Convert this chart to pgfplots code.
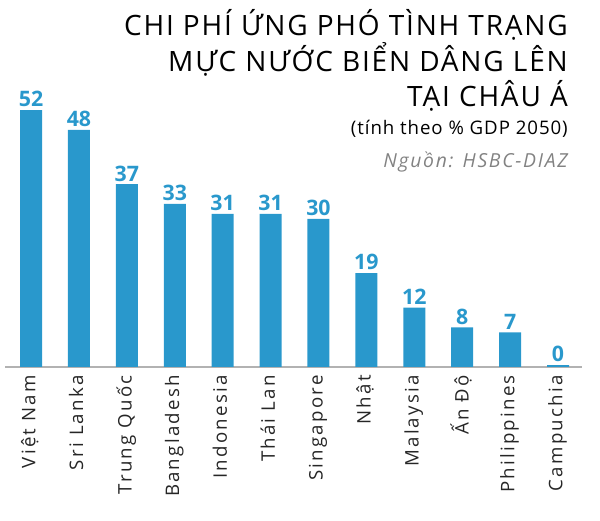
\documentclass[border=0pt]{standalone}
\usepackage{pgfplots}
\pgfplotsset{compat=1.18}
\usepackage{fontspec}
\setmainfont{Open Sans}
\newfontfamily\titlefont[LetterSpace=6.5]{Open Sans}
\newfontfamily\subfont[LetterSpace=5]{Open Sans}
\newfontfamily\srcfont[LetterSpace=9]{Open Sans}
\newfontfamily\tickfont[LetterSpace=12]{Open Sans}
\definecolor{barblue}{RGB}{41,152,204}
\definecolor{srcgray}{RGB}{130,130,130}
\begin{document}
\begin{tikzpicture}[x=0.75pt,y=0.75pt]
\path[use as bounding box] (0,0) rectangle (600,521);
\begin{axis}[
  at={(3.75pt,115.5pt)}, anchor=south west,
  scale only axis, width=432.75pt, height=200.25pt,
  xmin=-0.543, xmax=11.5, ymin=0, ymax=54.05,
  axis x line*=bottom, axis y line=none,
  x axis line style={draw=black!30, line width=1pt},
  xtick=data, major tick length=0,
  xticklabels={Việt Nam,Sri Lanka,Trung Quốc,Bangladesh,Indonesia,Thái Lan,Singapore,Nhật,Malaysia,Ấn Độ,Philippines,Campuchia},
  xticklabel style={rotate=90, anchor=east, font=\tickfont\fontsize{14}{14}\selectfont, text=black!85, inner sep=0pt, xshift=-6pt},
  typeset ticklabels with strut=false,
  ybar, bar width=16.5pt,
  bar shift=0pt,
  nodes near coords={\pgfmathprintnumber[fixed,precision=0,assume math mode=true]{\pgfplotspointmeta}},
  nodes near coords style={font=\fontsize{16}{16}\selectfont\bfseries, text=barblue, inner sep=2pt},
  clip=false,
]
\addplot[fill=barblue, draw=none] coordinates {
(0,52) (1,48) (2,37) (3,33) (4,31) (5,31) (6,30) (7,19) (8,12) (9,8) (10,7) (11,0.4)
};
\end{axis}
\node[anchor=base east, inner sep=0pt, font=\titlefont\fontsize{21}{21}\selectfont] at (568,485) {CHI PHÍ ỨNG PHÓ TÌNH TRẠNG};
\node[anchor=base east, inner sep=0pt, font=\titlefont\fontsize{21}{21}\selectfont] at (568,449) {MỰC NƯỚC BIỂN DÂNG LÊN};
\node[anchor=base east, inner sep=0pt, font=\titlefont\fontsize{21}{21}\selectfont] at (568,414) {TẠI CHÂU Á};
\node[anchor=base east, inner sep=0pt, font=\subfont\fontsize{14}{14}\selectfont] at (568,386) {(tính theo \% GDP 2050)};
\node[anchor=base east, inner sep=0pt, font=\srcfont\fontsize{14.5}{14.5}\selectfont\itshape, text=srcgray] at (568,353) {Nguồn: HSBC-DIAZ};
\end{tikzpicture}
\end{document}
